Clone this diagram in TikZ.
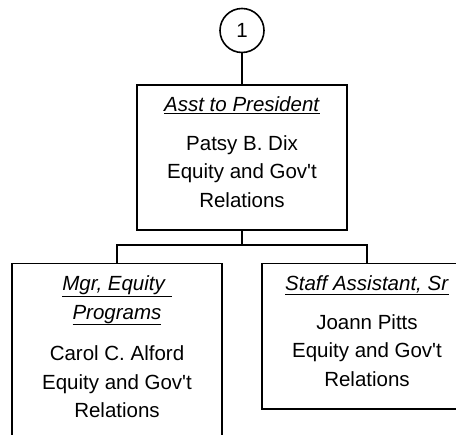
\documentclass[tikz,border=0pt]{standalone}
\usepackage{fontspec}
\setmainfont{Liberation Sans}

\begin{document}
\begin{tikzpicture}[x=1pt,y=1pt,line width=1.6pt,font=\fontsize{20.5}{28.5}\selectfont]
                \tikzstyle{ref node}=[circle,draw,minimum size=44pt,inner sep=0]
                \tikzstyle{post node}=[rectangle,draw,anchor=north,minimum width=210pt,inner xsep=0,inner ysep=12pt,align=center]
                \tikzstyle{level 1}=[level distance=53.5pt]
                \tikzstyle{level 2}=[level distance=105.5pt,sibling distance=250pt,
                  edge from parent path={(\tikzparentnode.south) -- ++(0,-14) -| (\tikzchildnode.north)}]
                \useasboundingbox (0,0) rectangle (456,435);
                \clip (0,0) rectangle (456,435);
                \node(ref)[ref node] at (242,404.5){1}
                child{node(asst)[post node]{\underline{\textit{Asst to President}}\\[10pt]Patsy B. Dix\\Equity and Gov\textquotesingle t\\Relations\rule[-10.8pt]{0pt}{10.8pt}}
                child{node(mgr)[post node]{\underline{\textit{Mgr, Equity\ }}\\\underline{\textit{Programs}}\\[13pt]Carol C. Alford\\Equity and Gov\textquotesingle t\\Relations\rule[-10.8pt]{0pt}{10.8pt}}}
                child{node(staff)[post node]{\underline{\textit{Staff Assistant, Sr}}\\[10pt]Joann Pitts\\Equity and Gov\textquotesingle t\\Relations\rule[-10.8pt]{0pt}{10.8pt}}}
                };
\end{tikzpicture}
\end{document}
